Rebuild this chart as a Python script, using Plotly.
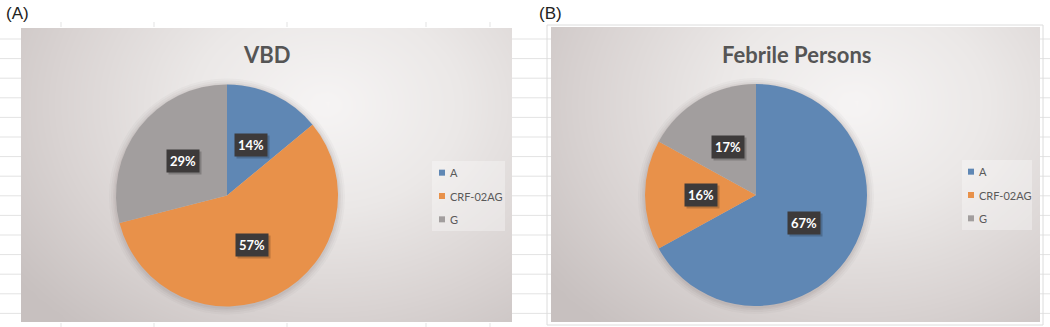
import math
import numpy as np
import plotly.graph_objects as go

# ---------------- data ----------------
categories = ["A", "CRF-02AG", "G"]
vbd_values = [14, 57, 29]
febrile_values = [67, 16, 17]
panel_titles = ["VBD", "Febrile Persons"]
panel_tags = ["(A)", "(B)"]
slice_colors = ["#5f87b4", "#e8914a", "#a29e9e"]

W, H = 1050, 327

# panel geometry (pixels, from the top-left corner)
panels = [
    dict(x0=21, x1=512, y0=28, y1=322, cx=227, cy=195.5, r=111, tx=267, ty=54,
         bx0=432, bx1=505, by0=161, by1=231, sq=439, tagx=4, values=vbd_values),
    dict(x0=551, x1=1040, y0=27, y1=322, cx=756, cy=195, r=111, tx=796, ty=54,
         bx0=962, bx1=1032, by0=160, by1=230, sq=968, tagx=537, values=febrile_values),
]

def px(x):
    return x / W

def py(y):
    return 1 - y / H

fig = go.Figure()

# spreadsheet cell lines behind the charts
shapes = []
y = 39.0
while y < 320:
    shapes.append(dict(type="line", xref="paper", yref="paper", x0=0, x1=1,
                       y0=py(y), y1=py(y), line=dict(color="#e3e3e3", width=1),
                       layer="below"))
    y += 19.6
for xv in [61, 154, 287, 426, 490]:
    for (ya, yb) in [(22, 27), (323, 327)]:
        shapes.append(dict(type="line", xref="paper", yref="paper", x0=px(xv), x1=px(xv),
                           y0=py(ya), y1=py(yb), line=dict(color="#e3e3e3", width=1),
                           layer="below"))
# frame of chart B
shapes.append(dict(type="rect", xref="paper", yref="paper", x0=px(547), x1=px(1043),
                   y0=py(325), y1=py(25), line=dict(color="#dcdcdc", width=1),
                   layer="below"))

# background gradient for each chart area (style only)
gx = np.linspace(0, 1, 41)
gy = np.linspace(0, 1, 41)
GX, GY = np.meshgrid(gx, gy)
grad = np.sqrt(((GX - 0.62) / 0.78) ** 2 + ((GY - 0.74) / 1.0) ** 2)
grad = np.clip(grad, 0, 1)
bg_scale = [[0.0, "#f6f4f4"], [0.35, "#ebe8e7"], [0.7, "#d9d3d2"], [1.0, "#c7c0bf"]]

annotations = []
for i, p in enumerate(panels):
    ax = "" if i == 0 else str(i + 1)
    fig.add_trace(go.Heatmap(x=gx, y=gy, z=grad, colorscale=bg_scale, zmin=0, zmax=1,
                             zsmooth="best", showscale=False, hoverinfo="skip",
                             xaxis="x" + ax, yaxis="y" + ax))
    fig.update_layout(**{
        "xaxis" + ax: dict(domain=[px(p["x0"]), px(p["x1"])], range=[0, 1], visible=False,
                           fixedrange=True),
        "yaxis" + ax: dict(domain=[py(p["y1"]), py(p["y0"])], range=[0, 1], visible=False,
                           fixedrange=True),
    })

    # soft shadow around the pie (decoration)
    for extra, alpha in [(7, 0.03), (5, 0.04), (3, 0.05), (1.5, 0.05)]:
        rr = p["r"] + extra
        fig.add_trace(go.Pie(
            values=[1], labels=[""], sort=False, textinfo="none", hoverinfo="skip",
            marker=dict(colors=[f"rgba(70,60,60,{alpha})"], line=dict(width=0)),
            domain=dict(x=[px(p["cx"] - rr), px(p["cx"] + rr)],
                        y=[py(p["cy"] + 1 + rr), py(p["cy"] + 1 - rr)]),
            showlegend=False))

    fig.add_trace(go.Pie(
        labels=categories, values=p["values"], sort=False, direction="clockwise",
        rotation=0, marker=dict(colors=slice_colors, line=dict(width=0)),
        textinfo="none", hoverinfo="label+percent", name=panel_titles[i],
        domain=dict(x=[px(p["cx"] - p["r"]), px(p["cx"] + p["r"])],
                    y=[py(p["cy"] + p["r"]), py(p["cy"] - p["r"])]),
        showlegend=False,
    ))

    # data labels at half radius along each slice's mid angle
    total = sum(p["values"])
    cum = 0
    for v in p["values"]:
        mid = (cum + v / 2) / total * 2 * math.pi
        cum += v
        lx = p["cx"] + 0.5 * p["r"] * math.sin(mid)
        ly = p["cy"] - 0.5 * p["r"] * math.cos(mid)
        pct = f"{round(v / total * 100)}%"
        annotations.append(dict(x=px(lx + 2), y=py(ly + 2), xref="paper", yref="paper",
                                xanchor="center", yanchor="middle",
                                text=f"<b>{pct}</b>", showarrow=False,
                                font=dict(family="Lato", size=13, color="rgba(0,0,0,0)"),
                                bgcolor="rgba(0,0,0,0.2)", borderpad=3))
        annotations.append(dict(x=px(lx), y=py(ly), xref="paper", yref="paper",
                                xanchor="center", yanchor="middle",
                                text=f"<b>{pct}</b>", showarrow=False,
                                font=dict(family="Lato", size=13, color="white"),
                                bgcolor="#3d3a3a", borderpad=3))

    # chart title and panel tag
    annotations.append(dict(x=px(p["tx"]), y=py(p["ty"]), xref="paper", yref="paper",
                            xanchor="center", yanchor="middle",
                            text=f"<b>{panel_titles[i]}</b>", showarrow=False,
                            font=dict(family="Lato", size=22, color="#555555")))
    annotations.append(dict(x=px(p["tagx"]), y=py(13), xref="paper", yref="paper",
                            xanchor="left", yanchor="middle", text=panel_tags[i],
                            showarrow=False,
                            font=dict(family="Liberation Sans", size=17, color="#222222")))

    # legend (Excel style: small squares, compact rows)
    shapes.append(dict(type="rect", xref="paper", yref="paper",
                       x0=px(p["bx0"]), x1=px(p["bx1"]), y0=py(p["by1"]), y1=py(p["by0"]),
                       fillcolor="rgba(255,255,255,0.32)", line=dict(width=0),
                       layer="above"))
    row_h = (p["by1"] - p["by0"]) / len(categories)
    for k, (cat, col) in enumerate(zip(categories, slice_colors)):
        yc = p["by0"] + row_h * (k + 0.5)
        shapes.append(dict(type="rect", xref="paper", yref="paper",
                           x0=px(p["sq"]), x1=px(p["sq"] + 6),
                           y0=py(yc + 3), y1=py(yc - 3),
                           fillcolor=col, line=dict(width=0), layer="above"))
        annotations.append(dict(x=px(p["sq"] + 9), y=py(yc), xref="paper", yref="paper",
                                xanchor="left", yanchor="middle", text=cat,
                                showarrow=False,
                                font=dict(family="Lato", size=11, color="#595959")))

fig.update_layout(
    width=W, height=H, autosize=False, margin=dict(l=0, r=0, t=0, b=0),
    paper_bgcolor="white", plot_bgcolor="rgba(0,0,0,0)", showlegend=False,
    shapes=shapes, annotations=annotations,
)

fig.write_html(
    "out.html",
    config={"displayModeBar": False, "responsive": False},
    post_script="document.body.style.margin='0';document.body.style.padding='0';"
                "document.body.style.overflow='hidden';",
)
